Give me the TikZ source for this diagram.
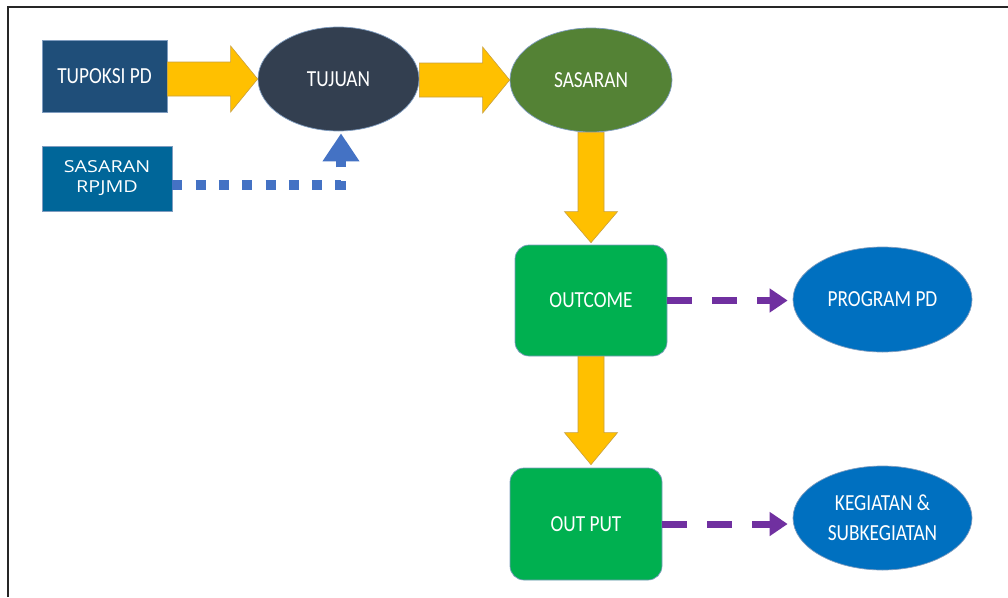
\documentclass[tikz,border=0pt]{standalone}
\usepackage{fontspec}
\setmainfont[FakeStretch=0.84]{Carlito}
\newfontfamily\rfont[FakeStretch=1.2]{Open Sans}
\usetikzlibrary{arrows.meta,calc,shapes.geometric}
\definecolor{tupc}{HTML}{1F4E79}
\definecolor{rpjc}{HTML}{006699}
\definecolor{tujc}{HTML}{333F50}
\definecolor{sasc}{HTML}{548235}
\definecolor{grnc}{HTML}{00B050}
\definecolor{bluc}{HTML}{0070C0}
\definecolor{yelc}{HTML}{FFC000}
\definecolor{yelb}{HTML}{C8A040}
\definecolor{purc}{HTML}{7030A0}
\definecolor{dotc}{HTML}{4472C4}
\definecolor{edgc}{HTML}{7F9CBF}
\definecolor{frmc}{HTML}{262626}
\begin{document}
\begin{tikzpicture}[x=1pt,y=-1pt,
  every node/.style={inner sep=0pt,text=white,font=\fontsize{23}{30}\selectfont,align=center},
  boxshape/.style={rectangle,draw=edgc,line width=0.7pt},
  ellshape/.style={ellipse,draw=edgc,line width=0.7pt},
  yarrow/.style={fill=yelc,draw=yelb,line width=0.6pt,line join=miter},
  pdash/.style={draw=purc,line width=7pt,dash pattern=on 25pt off 20pt,
    -{Triangle[length=18pt,width=23pt]},shorten >=5pt},
  bdot/.style={draw=dotc,line width=10pt,dash pattern=on 10pt off 13.3pt,line join=miter,
    -{Triangle[length=28pt,width=35pt]},shorten >=2pt}]
\useasboundingbox (0,0) rectangle (1008,597);
\fill[white] (0,0) rectangle (1008,597);
\draw[frmc,line width=2.5pt] (8,597) -- (8,7) -- (1008,7);

\node[boxshape,fill=tupc,minimum width=125pt,minimum height=72pt] (tup) at (104.5,76) {TUPOKSI PD};
\node[boxshape,fill=rpjc,minimum width=130pt,minimum height=65pt,font=\rfont\fontsize{16.5}{20}\selectfont] (rpj) at (107,178.5) {SASARAN\\RPJMD};
\node[ellshape,fill=tujc,minimum width=161pt,minimum height=104pt] (tuj) at (338.5,79) {TUJUAN};
\node[ellshape,fill=sasc,minimum width=162pt,minimum height=104pt] (sas) at (591,80) {SASARAN};
\node[boxshape,rounded corners=14pt,fill=grnc,minimum width=152pt,minimum height=111pt] (outc) at (591,300.5) {OUTCOME};
\node[boxshape,rounded corners=14pt,fill=grnc,minimum width=152pt,minimum height=112pt] (outp) at (586,524) {OUT PUT};
\node[ellshape,fill=bluc,minimum width=179pt,minimum height=105pt] (prog) at (882.5,299.5) {PROGRAM PD};
\node[ellshape,fill=bluc,minimum width=179pt,minimum height=104pt] (keg) at (882.5,518) {KEGIATAN \&\\SUBKEGIATAN};

% yellow block arrows
\path[yarrow] let \p1=(tup.east), \p2=(tuj.west) in
  (\x1,\y2+17pt) -- (\x2-27pt,\y2+17pt) -- (\x2-27pt,\y2+33pt) -- (\x2,\y2)
  -- (\x2-27pt,\y2-33pt) -- (\x2-27pt,\y2-17pt) -- (\x1,\y2-17pt) -- cycle;
\path[yarrow] let \p1=(tuj.east), \p2=(sas.west) in
  (\x1,\y2+17pt) -- (\x2-27pt,\y2+17pt) -- (\x2-27pt,\y2+33pt) -- (\x2,\y2)
  -- (\x2-27pt,\y2-33pt) -- (\x2-27pt,\y2-17pt) -- (\x1,\y2-17pt) -- cycle;
\path[yarrow] let \p1=(sas.south), \p2=(outc.north) in
  (\x1-13pt,\y1) -- (\x1-13pt,\y2+33pt) -- (\x1-26.5pt,\y2+33pt) -- (\x1,\y2+2pt)
  -- (\x1+26.5pt,\y2+33pt) -- (\x1+13pt,\y2+33pt) -- (\x1+13pt,\y1) -- cycle;
\path[yarrow] let \p1=(outc.south), \p2=(outp.north) in
  (\x1-13pt,\y1) -- (\x1-13pt,\y2+35pt) -- (\x1-26.5pt,\y2+35pt) -- (\x1,\y2+3pt)
  -- (\x1+26.5pt,\y2+35pt) -- (\x1+13pt,\y2+35pt) -- (\x1+13pt,\y1) -- cycle;

% purple dashed arrows
\draw[pdash] (outc.east) -- (outc.east -| prog.west);
\draw[pdash] (outp.east) -- (outp.east -| keg.west);

% blue dotted arrow
\coordinate (bc) at (341,185);
\draw[bdot] (rpj.east |- bc) -- (bc) -- (tuj.south -| bc);
\end{tikzpicture}
\end{document}
